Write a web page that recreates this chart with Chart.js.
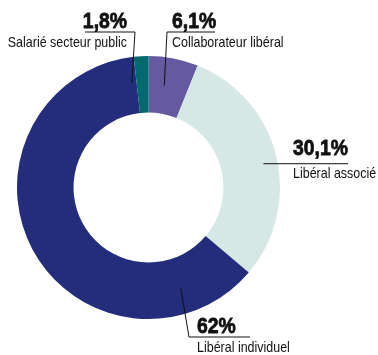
<!DOCTYPE html>
<html>
<head>
<meta charset="utf-8">
<script src="https://cdn.jsdelivr.net/npm/chart.js@4.4.1/dist/chart.umd.min.js"></script>
<style>
  html, body { margin: 0; padding: 0; background: #fff; }
  #wrap { position: relative; width: 378px; height: 355px; }
</style>
</head>
<body>
<div id="wrap"><canvas id="chart"></canvas></div>
<script>
const categories = ['Collaborateur libéral', 'Libéral associé', 'Libéral individuel', 'Salarié secteur public'];
const values = [6.1, 30.1, 62, 1.8];
const valueLabels = ['6,1%', '30,1%', '62%', '1,8%'];
const colors = ['#655a9f', '#d5e8e6', '#232d7c', '#006a6f'];

// where each leader line starts inside its slice (t = along the arc, r = across the ring)
// and where the text block sits
const labelLayout = [
    { t: 0.4, r: 0.5, elbow: [167, 32], end: 215, tx: 172, align: 'left', pctY: 28, nameY: 47 },
    { t: 0.52, r: 0.75, elbow: null, end: 348, tx: 293, align: 'left', pctY: 155, nameY: 178 },
    { t: 0.143, r: 0.55, elbow: [189, 337], end: 250, tx: 197, align: 'left', pctY: 333, nameY: 352 },
    { t: -0.4, r: 0.55, elbow: [135, 32], end: 85, tx: 127, align: 'right', pctY: 28, nameY: 47 }
];

// no condensed font installed: squeeze regular ones horizontally
function narrowText(ctx, text, x, y, font, sx, heavy) {
    ctx.save();
    ctx.translate(x, y);
    ctx.scale(sx, 1);
    ctx.font = font;
    ctx.fillText(text, 0, 0);
    if (heavy) {
        ctx.lineWidth = heavy;
        ctx.strokeText(text, 0, 0);
    }
    ctx.restore();
}

const leaderLabels = {
    id: 'leaderLabels',
    afterDatasetsDraw(chart) {
        const ctx = chart.ctx;
        const arcs = chart.getDatasetMeta(0).data;
        ctx.save();
        arcs.forEach((arc, i) => {
            const L = labelLayout[i];
            const a = arc.startAngle + (arc.endAngle - arc.startAngle) * L.t;
            const r = arc.innerRadius + (arc.outerRadius - arc.innerRadius) * L.r;
            const ax = arc.x + Math.cos(a) * r;
            const ay = arc.y + Math.sin(a) * r;

            ctx.strokeStyle = '#111';
            ctx.lineWidth = 1;
            ctx.beginPath();
            ctx.moveTo(ax, ay);
            if (L.elbow) {
                ctx.lineTo(L.elbow[0], L.elbow[1]);
                ctx.lineTo(L.end, L.elbow[1]);
            } else {
                ctx.lineTo(L.end, ay);
            }
            ctx.stroke();

            ctx.fillStyle = '#111';
            ctx.textAlign = L.align;
            ctx.textBaseline = 'alphabetic';
            narrowText(ctx, valueLabels[i], L.tx, L.pctY, 'bold 22px "Liberation Sans", Arial, sans-serif', 0.88, 0.8);
            narrowText(ctx, categories[i], L.tx, L.nameY, '14.5px "Liberation Sans", Arial, sans-serif', 0.86);
        });
        ctx.restore();
    }
};

new Chart(document.getElementById('chart'), {
    type: 'doughnut',
    data: {
        labels: categories,
        datasets: [{
            data: values,
            backgroundColor: colors,
            borderWidth: 0
        }]
    },
    options: {
        responsive: true,
        maintainAspectRatio: false,
        animation: false,
        cutout: '57%',
        layout: { padding: { left: 17, right: 98, top: 56, bottom: 36 } },
        plugins: {
            legend: { display: false },
            tooltip: { enabled: false }
        },
        events: []
    },
    plugins: [leaderLabels]
});
</script>
</body>
</html>
